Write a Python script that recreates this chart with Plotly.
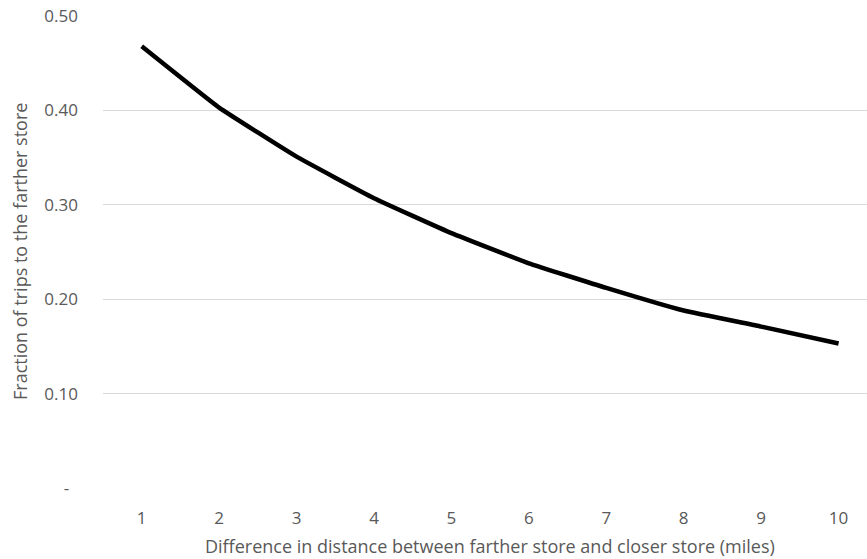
import plotly.graph_objects as go

distance_miles = [1, 2, 3, 4, 5, 6, 7, 8, 9, 10]
fraction_farther = [0.468, 0.403, 0.351, 0.307, 0.270, 0.238, 0.212, 0.188, 0.171, 0.153]
y_tick_vals = [0, 0.1, 0.2, 0.3, 0.4, 0.5]
y_tick_text = ["-\u00a0\u00a0", "0.10", "0.20", "0.30", "0.40", "0.50"]

FONT = "Open Sans"
GRAY = "#595959"
SIZE = 17
TITLE_SIZE = 18

fig = go.Figure()
fig.add_trace(go.Scatter(
    x=distance_miles, y=fraction_farther, mode="lines",
    line=dict(color="black", width=4.5, shape="spline", smoothing=0.3),
    showlegend=False, hoverinfo="skip",
))

fig.update_layout(
    width=867, height=559,
    margin=dict(l=103, r=0, t=16, b=71, autoexpand=False),
    plot_bgcolor="white", paper_bgcolor="white",
    font=dict(family=FONT, size=SIZE, color=GRAY),
    xaxis=dict(
        range=[0.5, 10.367],
        tickvals=distance_miles,
        ticktext=[str(v) for v in distance_miles],
        showgrid=False, zeroline=False, showline=False,
        ticks="", ticklabelstandoff=18, automargin=False,
        tickfont=dict(size=SIZE, color=GRAY, family=FONT),
    ),
    yaxis=dict(
        range=[0, 0.5],
        tickvals=y_tick_vals, ticktext=y_tick_text,
        showgrid=True, gridcolor="#d9d9d9", gridwidth=1,
        zeroline=False, showline=False, ticks="",
        ticklabelstandoff=24, automargin=False,
        tickfont=dict(size=SIZE, color=GRAY, family=FONT),
    ),
    annotations=[
        dict(text="Difference in distance between farther store and closer store (miles)",
             xref="paper", yref="paper", x=(490 - 103) / 764, y=0,
             xanchor="center", yanchor="middle", yshift=-58, showarrow=False,
             font=dict(size=TITLE_SIZE, color=GRAY, family=FONT)),
        dict(text="Fraction of trips to the farther store",
             xref="paper", yref="paper", x=(20 - 103) / 764, y=0.5,
             xanchor="center", yanchor="middle", textangle=-90, showarrow=False,
             font=dict(size=TITLE_SIZE, color=GRAY, family=FONT)),
    ],
)

fig.write_html("out.html", config={"displayModeBar": False},
               post_script="document.body.style.margin='0';")
